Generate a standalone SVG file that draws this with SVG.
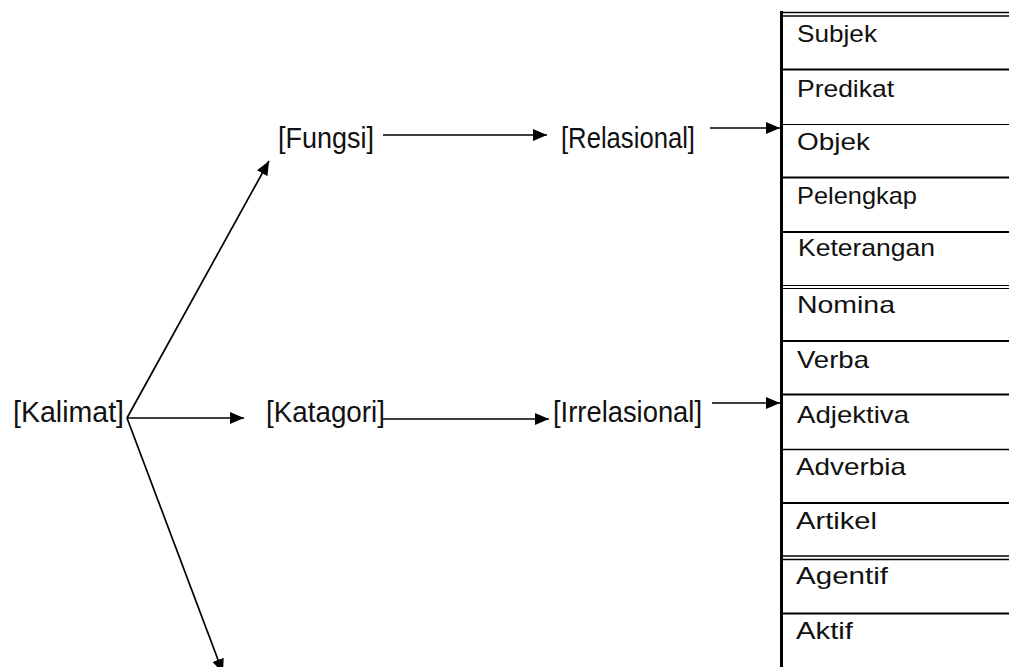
<svg xmlns="http://www.w3.org/2000/svg" width="1009" height="667" viewBox="0 0 1009 667">
  <style>
    .lbl { font-family: "Liberation Sans", Arial, sans-serif; font-size: 30px; fill: #111; }
    .cell { font-family: "Liberation Sans", Arial, sans-serif; font-size: 24px; fill: #111; }
    .conn { stroke: #000; stroke-width: 1.7; fill: none; marker-end: url(#arrow); }
    .rule { stroke: #000; fill: none; }
  </style>
  <defs>
    <marker id="arrow" markerUnits="userSpaceOnUse" markerWidth="15" markerHeight="12" refX="14" refY="6" orient="auto">
      <path d="M0,0 L14,6 L0,12 Z" fill="#000"/>
    </marker>
  </defs>

  <!-- concept labels -->
  <g id="kalimat"><text class="lbl" x="13" y="422" textLength="111" lengthAdjust="spacingAndGlyphs">[Kalimat]</text></g>
  <g id="fungsi"><text class="lbl" x="278" y="148" textLength="96" lengthAdjust="spacingAndGlyphs">[Fungsi]</text></g>
  <g id="relasional"><text class="lbl" x="561" y="148" textLength="134" lengthAdjust="spacingAndGlyphs">[Relasional]</text></g>
  <g id="katagori"><text class="lbl" x="266" y="422" textLength="119" lengthAdjust="spacingAndGlyphs">[Katagori]</text></g>
  <g id="irrelasional"><text class="lbl" x="553" y="422" textLength="149" lengthAdjust="spacingAndGlyphs">[Irrelasional]</text></g>

  <!-- connectors -->
  <g id="connectors">
    <line class="conn" x1="127" y1="418" x2="269" y2="161"/>
    <line class="conn" x1="127" y1="418" x2="244" y2="418"/>
    <line class="conn" x1="127" y1="418" x2="223" y2="673"/>
    <line class="conn" x1="383" y1="135" x2="547" y2="135"/>
    <line class="conn" x1="710" y1="128" x2="780" y2="128"/>
    <line class="conn" x1="383" y1="419" x2="549" y2="419"/>
    <line class="conn" x1="712" y1="403" x2="780" y2="403"/>
  </g>

  <!-- word-class table -->
  <g id="table">
    <line class="rule" x1="781.5" y1="11" x2="781.5" y2="667" stroke-width="3"/>
    <line class="rule" x1="780" y1="12.5" x2="1009" y2="12.5" stroke-width="1.5"/>
    <line class="rule" x1="780" y1="16" x2="1009" y2="16" stroke-width="1.5"/>
    <line class="rule" x1="780" y1="69.5" x2="1009" y2="69.5" stroke-width="2"/>
    <line class="rule" x1="780" y1="124.5" x2="1009" y2="124.5" stroke-width="1"/>
    <line class="rule" x1="780" y1="177.5" x2="1009" y2="177.5" stroke-width="2"/>
    <line class="rule" x1="780" y1="232" x2="1009" y2="232" stroke-width="2"/>
    <line class="rule" x1="780" y1="285.5" x2="1009" y2="285.5" stroke-width="1"/>
    <line class="rule" x1="780" y1="288.5" x2="1009" y2="288.5" stroke-width="1"/>
    <line class="rule" x1="780" y1="341" x2="1009" y2="341" stroke-width="2"/>
    <line class="rule" x1="780" y1="394.5" x2="1009" y2="394.5" stroke-width="2"/>
    <line class="rule" x1="780" y1="449.5" x2="1009" y2="449.5" stroke-width="1.5"/>
    <line class="rule" x1="780" y1="503" x2="1009" y2="503" stroke-width="2"/>
    <line class="rule" x1="780" y1="556" x2="1009" y2="556" stroke-width="1.5"/>
    <line class="rule" x1="780" y1="559.5" x2="1009" y2="559.5" stroke-width="1.5"/>
    <line class="rule" x1="780" y1="613.5" x2="1009" y2="613.5" stroke-width="2"/>

    <g id="cell-subjek"><text class="cell" x="797" y="42" textLength="80" lengthAdjust="spacingAndGlyphs">Subjek</text></g>
    <g id="cell-predikat"><text class="cell" x="797" y="97" textLength="97" lengthAdjust="spacingAndGlyphs">Predikat</text></g>
    <g id="cell-objek"><text class="cell" x="797" y="150" textLength="73" lengthAdjust="spacingAndGlyphs">Objek</text></g>
    <g id="cell-pelengkap"><text class="cell" x="797" y="204" textLength="120" lengthAdjust="spacingAndGlyphs">Pelengkap</text></g>
    <g id="cell-keterangan"><text class="cell" x="798" y="256" textLength="137" lengthAdjust="spacingAndGlyphs">Keterangan</text></g>
    <g id="cell-nomina"><text class="cell" x="797" y="313" textLength="98" lengthAdjust="spacingAndGlyphs">Nomina</text></g>
    <g id="cell-verba"><text class="cell" x="797" y="368" textLength="72" lengthAdjust="spacingAndGlyphs">Verba</text></g>
    <g id="cell-adjektiva"><text class="cell" x="797" y="423" textLength="112" lengthAdjust="spacingAndGlyphs">Adjektiva</text></g>
    <g id="cell-adverbia"><text class="cell" x="796" y="475" textLength="110" lengthAdjust="spacingAndGlyphs">Adverbia</text></g>
    <g id="cell-artikel"><text class="cell" x="796" y="529" textLength="81" lengthAdjust="spacingAndGlyphs">Artikel</text></g>
    <g id="cell-agentif"><text class="cell" x="796" y="584" textLength="92" lengthAdjust="spacingAndGlyphs">Agentif</text></g>
    <g id="cell-aktif"><text class="cell" x="796" y="639" textLength="57" lengthAdjust="spacingAndGlyphs">Aktif</text></g>
  </g>
</svg>
